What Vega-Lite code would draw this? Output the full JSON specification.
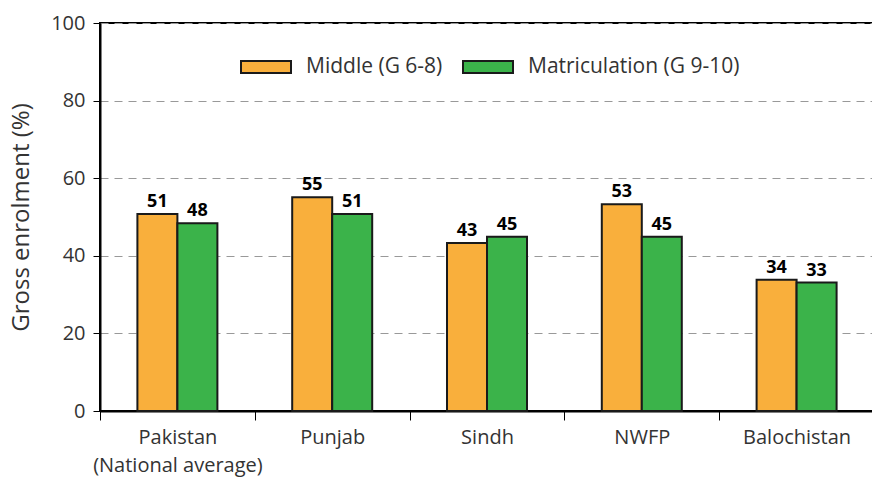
{
  "$schema": "https://vega.github.io/schema/vega-lite/v6.json",
  "autosize": "none",
  "width": 774,
  "height": 388,
  "padding": {"left": 100, "top": 23, "right": 0, "bottom": 69},
  "background": "white",
  "config": {
    "view": {"stroke": "black", "strokeWidth": 2},
    "font": "Open Sans"
  },
  "data": {
    "values": [
      {"region": "Pakistan", "level": "Middle (G 6-8)", "value": 50.8},
      {"region": "Pakistan", "level": "Matriculation (G 9-10)", "value": 48.4},
      {"region": "Punjab", "level": "Middle (G 6-8)", "value": 55.1},
      {"region": "Punjab", "level": "Matriculation (G 9-10)", "value": 50.8},
      {"region": "Sindh", "level": "Middle (G 6-8)", "value": 43.3},
      {"region": "Sindh", "level": "Matriculation (G 9-10)", "value": 44.9},
      {"region": "NWFP", "level": "Middle (G 6-8)", "value": 53.3},
      {"region": "NWFP", "level": "Matriculation (G 9-10)", "value": 44.9},
      {"region": "Balochistan", "level": "Middle (G 6-8)", "value": 33.8},
      {"region": "Balochistan", "level": "Matriculation (G 9-10)", "value": 33.1}
    ]
  },
  "encoding": {
    "x": {
      "field": "region",
      "type": "nominal",
      "sort": ["Pakistan", "Punjab", "Sindh", "NWFP", "Balochistan"],
      "scale": {"paddingInner": 0, "paddingOuter": 0},
      "axis": {
        "title": null,
        "labelAngle": 0,
        "labelFontSize": 20,
        "labelColor": "#333333",
        "labelPadding": 7,
        "labelLineHeight": 28,
        "labelLimit": 0,
        "labelExpr": "datum.label == 'Pakistan' ? ['Pakistan', '(National average)'] : datum.label",
        "tickBand": "extent",
        "tickColor": "black",
        "tickSize": 9,
        "tickWidth": 1,
        "domainColor": "black",
        "domainWidth": 2
      }
    },
    "xOffset": {
      "field": "level",
      "type": "nominal",
      "sort": ["Middle (G 6-8)", "Matriculation (G 9-10)"],
      "scale": {"paddingInner": 0, "paddingOuter": 0.935}
    },
    "y": {
      "field": "value",
      "type": "quantitative",
      "scale": {"domain": [0, 100]},
      "axis": {
        "title": "Gross enrolment (%)",
        "titleFontSize": 24,
        "titleFontWeight": "normal",
        "titleColor": "#333333",
        "titlePadding": 17,
        "values": [0, 20, 40, 60, 80, 100],
        "labelFontSize": 20,
        "labelColor": "#333333",
        "labelPadding": 8,
        "tickColor": "black",
        "tickSize": 7,
        "domainColor": "black",
        "domainWidth": 2,
        "grid": true,
        "gridColor": "#999999",
        "gridDash": [8, 6],
        "gridWidth": 1
      }
    }
  },
  "layer": [
    {
      "mark": {"type": "bar", "stroke": "#1a1a1a", "strokeWidth": 2},
      "encoding": {
        "color": {
          "field": "level",
          "type": "nominal",
          "sort": ["Middle (G 6-8)", "Matriculation (G 9-10)"],
          "scale": {"range": ["#F9AF3C", "#3BB34A"]},
          "legend": {
            "title": null,
            "orient": "none",
            "legendX": 140,
            "legendY": 18,
            "direction": "horizontal",
            "padding": 0,
            "symbolType": "M-1,-0.24H1V0.24H-1Z",
            "symbolSize": 2500,
            "symbolStrokeColor": "#1a1a1a",
            "symbolStrokeWidth": 2,
            "labelFontSize": 21,
            "labelColor": "#333333",
            "labelOffset": 14,
            "labelLimit": 0,
            "columnPadding": 16
          }
        }
      }
    },
    {
      "mark": {"type": "text", "dy": -12, "fontSize": 18, "fontWeight": "bold", "color": "black"},
      "encoding": {
        "text": {"field": "value", "type": "quantitative", "format": ".0f"}
      }
    }
  ]
}
